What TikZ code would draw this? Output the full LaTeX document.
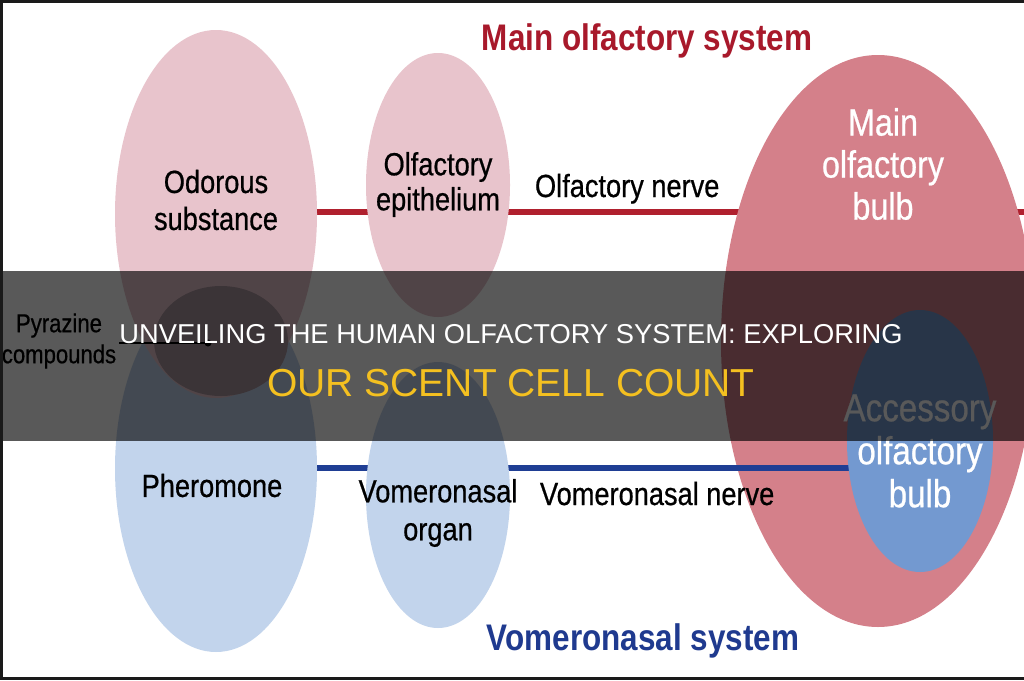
\documentclass[tikz,border=0pt]{standalone}
\usepackage{fontspec}
\setmainfont{Liberation Sans}
\newfontfamily\condf[FakeStretch=0.85,FakeBold=0.6]{Liberation Sans}
\newfontfamily\condbf[FakeStretch=0.85]{Liberation Sans Bold}
\usetikzlibrary{shapes.geometric}
\pgfdeclarelayer{paper}
\pgfdeclarelayer{bg}
\pgfdeclarelayer{mid}
\pgfdeclarelayer{fg}
\pgfdeclarelayer{topl}
\pgfsetlayers{paper,bg,main,mid,fg,topl}
\definecolor{pinkE}{HTML}{E8C4CC}
\definecolor{blueE}{HTML}{C2D4EC}
\definecolor{mauveE}{HTML}{AB95A0}
\definecolor{bulbR}{HTML}{D4808A}
\definecolor{accB}{HTML}{7399D0}
\definecolor{nerveRed}{HTML}{B0202E}
\definecolor{nerveBlue}{HTML}{1F3E94}
\definecolor{titleRed}{HTML}{A8192B}
\definecolor{titleBlue}{HTML}{1F3A8F}
\definecolor{ylw}{HTML}{F4C020}
\definecolor{frameC}{HTML}{1A1A1A}
\begin{document}
\begin{tikzpicture}[x=1pt,y=-1pt,
  oval/.style={ellipse, inner sep=0pt, outer sep=0pt, draw=none},
  lbl/.style={align=center, inner sep=0pt, outer sep=0pt, text=black},
  bulbtxt/.style={align=center, inner sep=0pt, outer sep=0pt, text=white},
  systitle/.style={anchor=base, inner sep=0pt, font=\condbf\fontsize{37}{40}\selectfont},
  redline/.style={draw=nerveRed, line width=6pt},
  blueline/.style={draw=nerveBlue, line width=6pt},
  bannertxt/.style={anchor=base, inner sep=0pt}
]
\useasboundingbox (0,0) rectangle (1024,680);
\begin{pgfonlayer}{paper}
\fill[white] (0,0) rectangle (1024,680);
\end{pgfonlayer}

% ellipses
\node[oval, fill=blueE, minimum width=202pt, minimum height=367pt] (pher) at (216,468.5) {};
\node[oval, fill=pinkE, minimum width=202pt, minimum height=368pt] (odor) at (216,214) {};
\node[oval, fill=mauveE, minimum width=134pt, minimum height=110pt] (pyrE) at (221,341) {};
\node[oval, fill=pinkE, minimum width=144pt, minimum height=264pt] (epi) at (438,185) {};
\node[oval, fill=blueE, minimum width=144pt, minimum height=266pt] (vno) at (438,495) {};
\node[oval, fill=bulbR, minimum width=314pt, minimum height=572pt] (mob) at (878,341) {};
\begin{pgfonlayer}{fg}
\node[oval, fill=accB, minimum width=146pt, minimum height=262pt] (aob) at (920,441) {};
\end{pgfonlayer}

\coordinate (nerveEnd) at (1024,212);
\coordinate (vnY) at (0,468);
\coordinate (pzEnd) at (208,343);

% connectors
\begin{pgfonlayer}{bg}
\draw[redline] (odor.center |- nerveEnd) -- (epi.center |- nerveEnd) -- (mob.center |- nerveEnd) -- (nerveEnd);
\draw[blueline] (pher.center |- vnY) -- (vno.center |- vnY) -- (aob.center |- vnY);
\end{pgfonlayer}
\begin{pgfonlayer}{mid}
\draw[blueline] (vno.east |- vnY) -- (aob.center |- vnY);
\end{pgfonlayer}

% labels
\begin{pgfonlayer}{fg}
\node[lbl, font=\condf\fontsize{32}{37}\selectfont] (odorT) at (216,200) {Odorous\\substance};
\node[lbl, font=\condf\fontsize{32}{35}\selectfont] (epiT) at (438,184.5) {Olfactory\\epithelium};
\node[lbl, font=\condf\fontsize{32}{36}\selectfont] (pherT) at (212,485.5) {Pheromone};
\node[lbl, font=\condf\fontsize{32}{38}\selectfont] (vnoT) at (438,513) {Vomeronasal\\organ};
\node[lbl, font=\condf\fontsize{26}{31}\selectfont] (pyrT) at (59,341) {Pyrazine\\compounds};
\node[lbl, anchor=base west, font=\condf\fontsize{32}{36}\selectfont] (onT) at (535,197) {Olfactory nerve};
\node[lbl, anchor=base west, font=\condf\fontsize{32}{36}\selectfont] (vnT) at (540,505) {Vomeronasal nerve};
\node[bulbtxt, font=\condf\fontsize{38}{42}\selectfont] (mobT) at (883,164) {Main\\olfactory\\bulb};
\node[bulbtxt, font=\condf\fontsize{39}{43}\selectfont] (aobT) at (920,451) {Accessory\\olfactory\\bulb};
\node[systitle, text=titleRed] (mos) at (647,50) {Main olfactory system};
\node[systitle, text=titleBlue] (vns) at (643,650) {Vomeronasal system};
\draw[black, line width=2pt] ([xshift=3pt]pyrT.east |- pzEnd) -- (pzEnd);
\fill[black] (pzEnd) circle[radius=3.5pt];
\end{pgfonlayer}

% banner
\begin{pgfonlayer}{topl}
\node[fill=black, fill opacity=0.65, minimum width=1024pt, minimum height=170pt, inner sep=0pt, outer sep=0pt, anchor=north west] (banner) at (0,271) {};
\node[bannertxt, text=white, font=\fontsize{27.3}{30}\selectfont] (b1) at (511,343) {UNVEILING THE HUMAN OLFACTORY SYSTEM: EXPLORING};
\node[bannertxt, text=ylw, font=\fontsize{39}{42}\selectfont] (b2) at (511,396) {OUR SCENT CELL COUNT};
\draw[frameC, line width=3pt] (1024,1.5) -- (1.5,1.5) -- (1.5,678.5) -- (1024,678.5);
\end{pgfonlayer}
\end{tikzpicture}
\end{document}
